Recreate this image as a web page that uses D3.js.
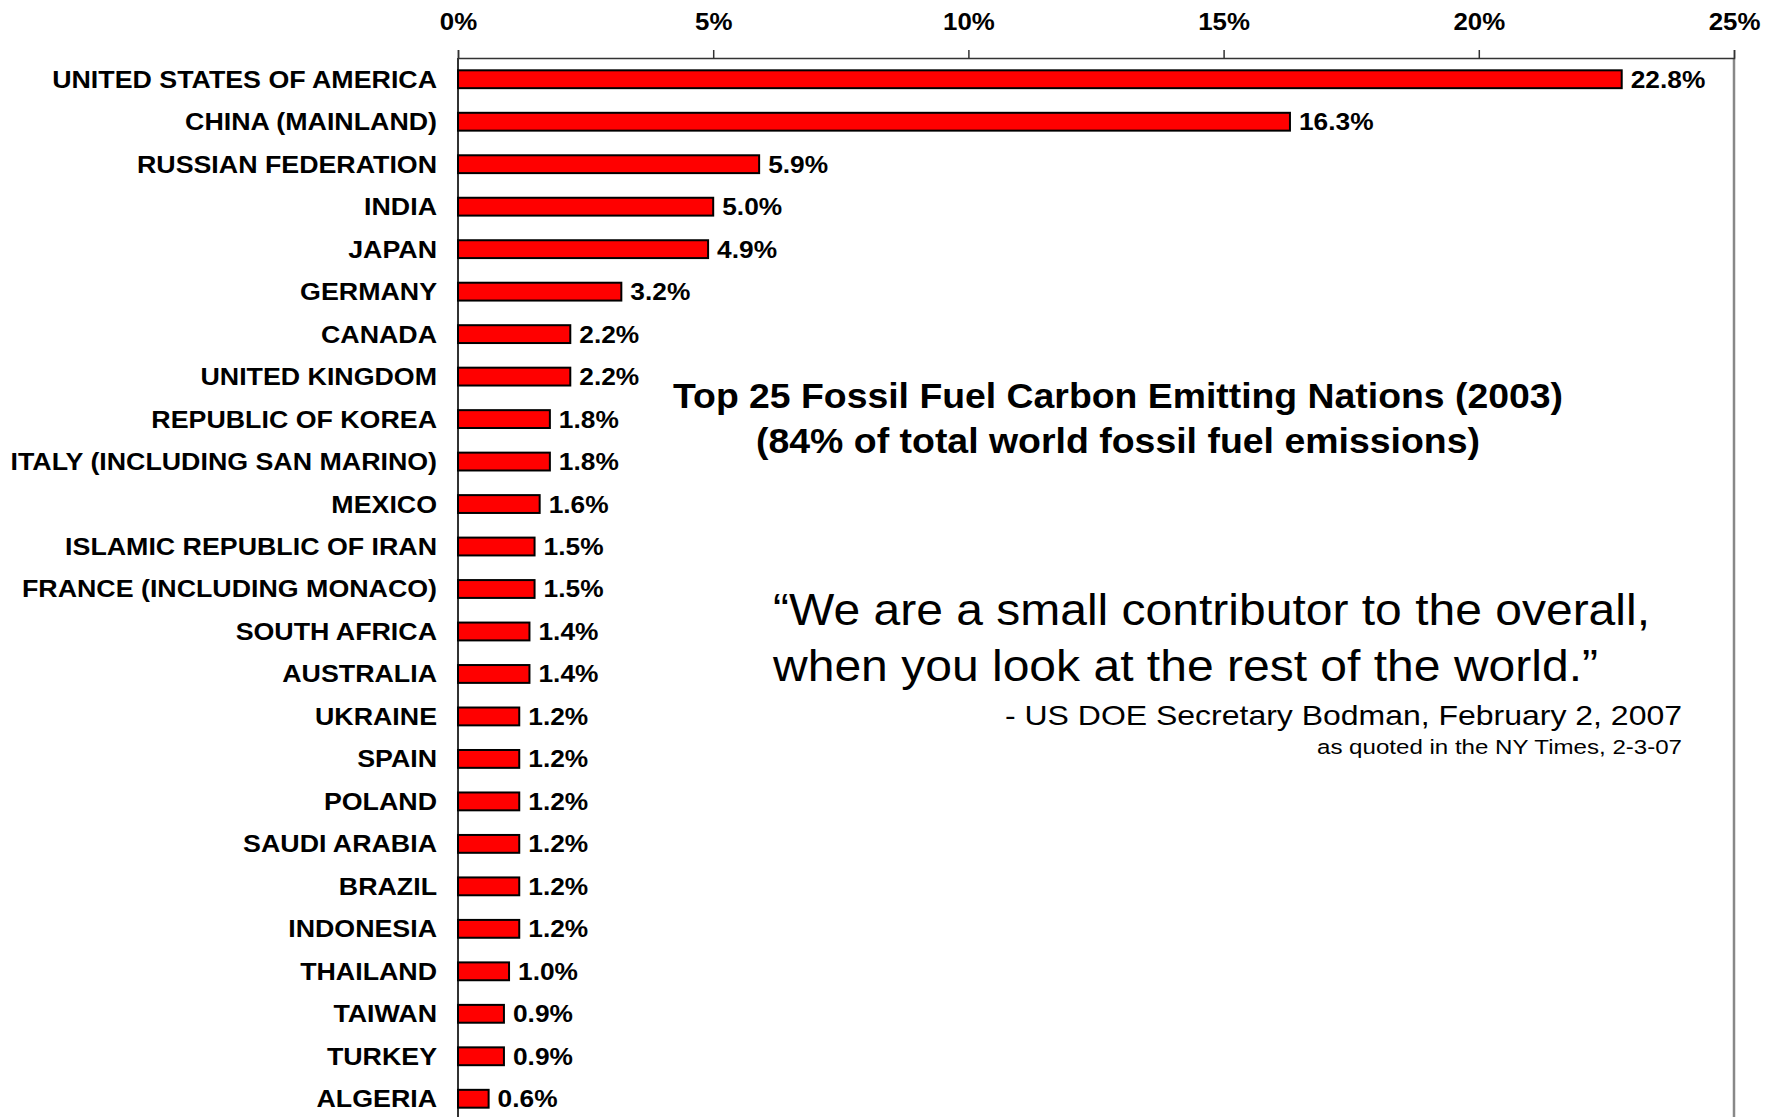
<!DOCTYPE html>
<html>
<head>
<meta charset="utf-8">
<script src="https://cdn.jsdelivr.net/npm/d3@7"></script>
<style>
  body { margin: 0; background: #fff; }
  text { font-family: "Liberation Sans", Arial, sans-serif; fill: #000; }
  .axis path, .axis line { stroke: #333; stroke-width: 1.5; }
</style>
</head>
<body>
<div id="chart"></div>
<script>
const countries = [
  'UNITED STATES OF AMERICA', 'CHINA (MAINLAND)', 'RUSSIAN FEDERATION', 'INDIA', 'JAPAN',
  'GERMANY', 'CANADA', 'UNITED KINGDOM', 'REPUBLIC OF KOREA', 'ITALY (INCLUDING SAN MARINO)',
  'MEXICO', 'ISLAMIC REPUBLIC OF IRAN', 'FRANCE (INCLUDING MONACO)', 'SOUTH AFRICA', 'AUSTRALIA',
  'UKRAINE', 'SPAIN', 'POLAND', 'SAUDI ARABIA', 'BRAZIL',
  'INDONESIA', 'THAILAND', 'TAIWAN', 'TURKEY', 'ALGERIA'
]
const shares = [
  22.8, 16.3, 5.9, 5.0, 4.9,
  3.2, 2.2, 2.2, 1.8, 1.8,
  1.6, 1.5, 1.5, 1.4, 1.4,
  1.2, 1.2, 1.2, 1.2, 1.2,
  1.2, 1.0, 0.9, 0.9, 0.6
]
const xTicks = [0, 5, 10, 15, 20, 25]
const titleLines = [
  'Top 25 Fossil Fuel Carbon Emitting Nations (2003)',
  '(84% of total world fossil fuel emissions)'
]
const quoteLines = [
  '\u201CWe are a small contributor to the overall,',
  'when you look at the rest of the world.\u201D'
]
const sourceLines = [
  '- US DOE Secretary Bodman, February 2, 2007',
  'as quoted in the NY Times, 2-3-07'
]

const width = 1778
const height = 1117
const plotLeft = 458, plotRight = 1734, plotTop = 58, plotBottom = 1120

const datapoints = countries.map((c, i) => ({ country: c, share: shares[i] }))

const svg = d3.select('#chart')
  .append('svg')
  .attr('width', width)
  .attr('height', height)

const x = d3.scaleLinear().domain([0, 25]).range([plotLeft, plotRight])
const y = d3.scaleBand()
  .domain(countries)
  .range([plotTop, plotBottom])
  .paddingInner(0.58)
  .paddingOuter(0.29)

// frame: left axis line and gray right border
svg.append('line')
  .attr('x1', plotLeft).attr('x2', plotLeft)
  .attr('y1', plotTop).attr('y2', height)
  .attr('stroke', '#333').attr('stroke-width', 2)
svg.append('line')
  .attr('x1', plotRight).attr('x2', plotRight)
  .attr('y1', plotTop).attr('y2', height)
  .attr('stroke', '#888').attr('stroke-width', 2.5)

const xAxis = d3.axisTop(x)
  .tickValues(xTicks)
  .tickSize(8)
  .tickPadding(20)
  .tickFormat(d => d + '%')

svg.append('g')
  .attr('class', 'axis x-axis')
  .attr('transform', `translate(0,${plotTop})`)
  .call(xAxis)
  .call(g => g.selectAll('text')
    .attr('font-size', 23.5)
    .attr('font-weight', 'bold')
    .attr('font-family', '"Liberation Sans", Arial, sans-serif')
    .attr('fill', '#000')
    .attr('transform', 'scale(1.1,1)'))

// bars
svg.selectAll('.bar')
  .data(datapoints)
  .enter()
  .append('rect')
  .attr('class', 'bar')
  .attr('x', x(0))
  .attr('y', d => y(d.country))
  .attr('width', d => x(d.share) - x(0))
  .attr('height', y.bandwidth())
  .attr('fill', '#ff0000')
  .attr('stroke', '#000')
  .attr('stroke-width', 2)

// country labels
svg.selectAll('.country-label')
  .data(datapoints)
  .enter()
  .append('text')
  .attr('class', 'country-label')
  .attr('text-anchor', 'end')
  .attr('font-size', 23.5)
  .attr('font-weight', 'bold')
  .attr('dy', '0.36em')
  .attr('transform', d => `translate(437,${y(d.country) + y.bandwidth() / 2}) scale(1.14,1)`)
  .text(d => d.country)

// value labels
svg.selectAll('.value-label')
  .data(datapoints)
  .enter()
  .append('text')
  .attr('class', 'value-label')
  .attr('font-size', 23.5)
  .attr('font-weight', 'bold')
  .attr('dy', '0.36em')
  .attr('transform', d => `translate(${x(d.share) + 9},${y(d.country) + y.bandwidth() / 2}) scale(1.12,1)`)
  .text(d => d.share.toFixed(1) + '%')

// title
const titleWidths = [890, 724]
svg.selectAll('.title')
  .data(titleLines)
  .enter()
  .append('text')
  .attr('class', 'title')
  .attr('x', 1118)
  .attr('y', (d, i) => 408 + i * 45)
  .attr('text-anchor', 'middle')
  .attr('font-size', 35)
  .attr('font-weight', 'bold')
  .attr('textLength', (d, i) => titleWidths[i])
  .attr('lengthAdjust', 'spacingAndGlyphs')
  .text(d => d)

// quote
const quoteWidths = [877, 825]
svg.selectAll('.quote')
  .data(quoteLines)
  .enter()
  .append('text')
  .attr('class', 'quote')
  .attr('x', 773)
  .attr('y', (d, i) => 625 + i * 56)
  .attr('font-size', 44)
  .attr('textLength', (d, i) => quoteWidths[i])
  .attr('lengthAdjust', 'spacingAndGlyphs')
  .text(d => d)

const sourceSizes = [28.5, 20.5]
const sourceWidths = [677, 365]
svg.selectAll('.source')
  .data(sourceLines)
  .enter()
  .append('text')
  .attr('class', 'source')
  .attr('x', 1682)
  .attr('y', (d, i) => 725 + i * 29)
  .attr('text-anchor', 'end')
  .attr('font-size', (d, i) => sourceSizes[i])
  .attr('textLength', (d, i) => sourceWidths[i])
  .attr('lengthAdjust', 'spacingAndGlyphs')
  .text(d => d)
</script>
</body>
</html>
